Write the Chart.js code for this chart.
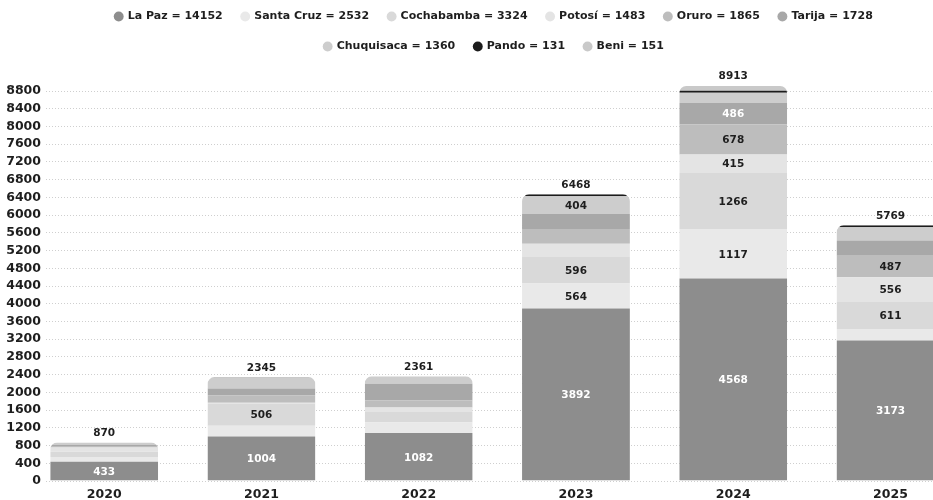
<!DOCTYPE html>
<html>
<head>
<meta charset="utf-8">
<script src="https://cdn.jsdelivr.net/npm/chart.js@4.4.1/dist/chart.umd.min.js"></script>
<style>
    html, body { margin: 0; padding: 0; background: #ffffff; overflow: hidden; }
</style>
</head>
<body>
<canvas id="chart" width="988" height="500"></canvas>
<script>
// Años (categorías del eje X)
const years = ['2020', '2021', '2022', '2023', '2024', '2025'];

// Valores por departamento, uno por año
const laPaz      = [433, 1004, 1082, 3892, 4568, 3173];
const santaCruz  = [110, 240, 244, 564, 1117, 257];
const cochabamba = [115, 506, 230, 596, 1266, 611];
const potosi     = [97, 15, 100, 300, 415, 556];
const oruro      = [35, 170, 160, 335, 678, 487];
const tarija     = [30, 150, 381, 336, 486, 345];
const chuquisaca = [35, 240, 156, 404, 230, 295];
const pando      = [0, 0, 0, 41, 45, 45];
const beni       = [15, 20, 8, 0, 108, 0];

// Marcas del eje Y
const yTicks = [0, 400, 800, 1200, 1600, 2000, 2400, 2800, 3200, 3600, 4000, 4400,
                4800, 5200, 5600, 6000, 6400, 6800, 7200, 7600, 8000, 8400, 8800];

const FONT = '"DejaVu Sans", sans-serif';

const series = [
    { name: 'La Paz',     data: laPaz,      color: '#8d8d8d', text: '#ffffff' },
    { name: 'Santa Cruz', data: santaCruz,  color: '#e9e9e9', text: '#1e1e1e' },
    { name: 'Cochabamba', data: cochabamba, color: '#d9d9d9', text: '#1e1e1e' },
    { name: 'Potosí',     data: potosi,     color: '#e4e4e4', text: '#1e1e1e' },
    { name: 'Oruro',      data: oruro,      color: '#bdbdbd', text: '#1e1e1e' },
    { name: 'Tarija',     data: tarija,     color: '#a8a8a8', text: '#ffffff' },
    { name: 'Chuquisaca', data: chuquisaca, color: '#cdcdcd', text: '#1e1e1e' },
    { name: 'Pando',      data: pando,      color: '#1c1c1c', text: '#ffffff' },
    { name: 'Beni',       data: beni,       color: '#c9c9c9', text: '#1e1e1e' }
];

const sum = arr => arr.reduce((a, b) => a + b, 0);
const yearTotals = years.map((_, i) => sum(series.map(s => s.data[i])));

// Leyenda en dos filas, borde superior redondeado de cada columna y etiquetas
const barDecor = {
    id: 'barDecor',
    beforeLayout(chart) {
        const legend = chart.legend;
        if (legend && !legend._patched) {
            const fit = legend.fit;
            legend.fit = function () {
                const full = this.maxWidth;
                this.maxWidth = 860;
                fit.call(this);
                this.maxWidth = full;
                this.width = full;
                this.height += 24;
            };
            legend._patched = true;
        }
    },
    beforeDatasetsDraw(chart) {
        const ctx = chart.ctx;
        ctx.save();
        ctx.beginPath();
        years.forEach((_, i) => {
            let top = Infinity, base = -Infinity, x = 0, w = 0;
            chart.data.datasets.forEach((ds, di) => {
                const bar = chart.getDatasetMeta(di).data[i];
                top = Math.min(top, bar.y);
                base = Math.max(base, bar.base);
                x = bar.x;
                w = bar.width;
            });
            const l = x - w / 2, r = x + w / 2, rad = 7;
            ctx.moveTo(l, base);
            ctx.lineTo(l, top + rad);
            ctx.arcTo(l, top, l + rad, top, rad);
            ctx.lineTo(r - rad, top);
            ctx.arcTo(r, top, r, top + rad, rad);
            ctx.lineTo(r, base);
            ctx.closePath();
        });
        ctx.clip();
    },
    afterDatasetsDraw(chart) {
        const ctx = chart.ctx;
        ctx.restore();
        ctx.save();
        ctx.textAlign = 'center';
        ctx.textBaseline = 'middle';
        ctx.font = 'bold 10.5px ' + FONT;
        chart.data.datasets.forEach((ds, di) => {
            chart.getDatasetMeta(di).data.forEach((bar, i) => {
                const v = ds.data[i];
                if (v < 400) return;
                ctx.fillStyle = series[di].text;
                ctx.fillText(v, bar.x, (bar.y + bar.base) / 2 + 1);
            });
        });
        ctx.fillStyle = '#1e1e1e';
        ctx.textBaseline = 'bottom';
        years.forEach((_, i) => {
            let top = Infinity, x = 0;
            chart.data.datasets.forEach((ds, di) => {
                const bar = chart.getDatasetMeta(di).data[i];
                if (bar.y < top) { top = bar.y; x = bar.x; }
            });
            ctx.fillText(yearTotals[i], x, top - 4);
        });
        ctx.restore();
    }
};

const ctx = document.getElementById('chart').getContext('2d');
new Chart(ctx, {
    type: 'bar',
    data: {
        labels: years,
        datasets: series.map(s => ({
            label: s.name + ' = ' + sum(s.data),
            data: s.data,
            backgroundColor: s.color,
            borderWidth: 0,
            categoryPercentage: 1,
            barPercentage: 0.686
        }))
    },
    options: {
        responsive: false,
        animation: false,
        layout: { padding: { top: -8, right: 0, bottom: -8, left: 0 } },
        plugins: {
            legend: {
                position: 'top',
                labels: {
                    usePointStyle: true,
                    pointStyle: 'circle',
                    boxWidth: 7,
                    boxHeight: 7,
                    padding: 19,
                    color: '#1e1e1e',
                    font: { family: FONT, size: 11, weight: 'bold' }
                }
            },
            tooltip: { enabled: false }
        },
        scales: {
            x: {
                type: 'linear',
                stacked: true,
                offset: false,
                min: 2019.63,
                max: 2025.62,
                afterBuildTicks: scale => { scale.ticks = years.map(y => ({ value: +y })); },
                grid: { display: false, drawTicks: false },
                border: { display: false },
                ticks: {
                    autoSkip: false,
                    maxRotation: 0,
                    padding: 6,
                    color: '#1e1e1e',
                    font: { family: FONT, size: 12.5, weight: 'bold' },
                    callback: v => String(v)
                }
            },
            y: {
                stacked: true,
                min: 0,
                max: Math.max(...yearTotals),
                afterBuildTicks: scale => { scale.ticks = yTicks.map(v => ({ value: v })); },
                afterFit: scale => { scale.width = 46; },
                grid: { color: '#cfcfcf', lineWidth: 1, drawTicks: false },
                border: { display: false, dash: [1, 2] },
                ticks: {
                    autoSkip: false,
                    padding: 5,
                    color: '#1e1e1e',
                    font: { family: FONT, size: 12.5, weight: 'bold' },
                    callback: v => String(v)
                }
            }
        }
    },
    plugins: [barDecor]
});
</script>
</body>
</html>
